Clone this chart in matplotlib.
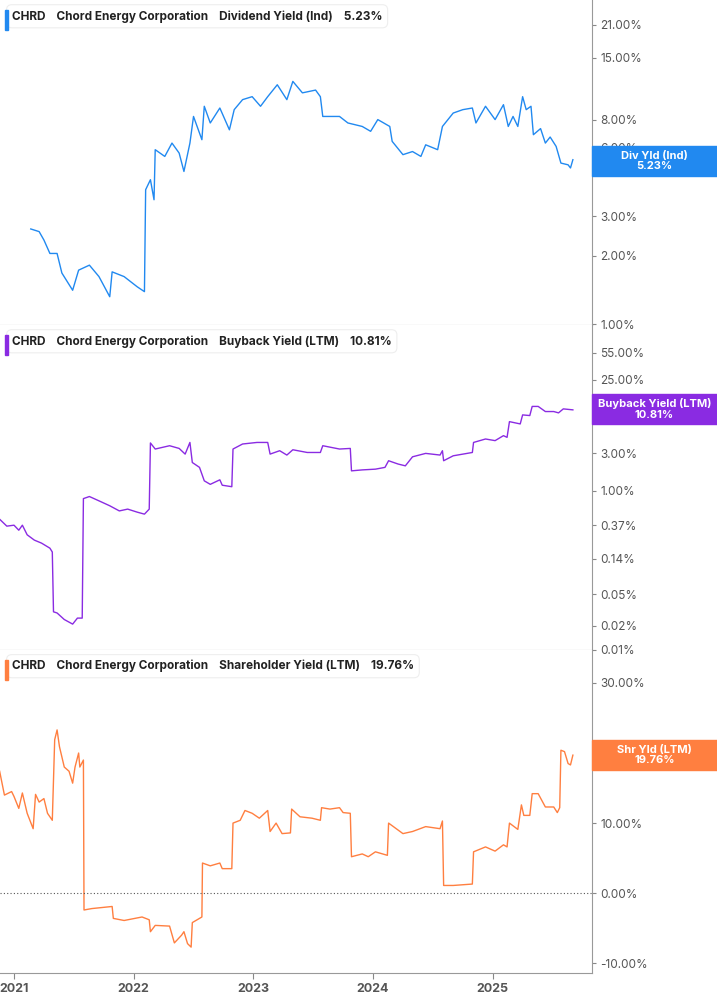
import matplotlib.pyplot as plt
from matplotlib.ticker import FixedLocator, FixedFormatter, NullLocator

# Dividend yield (Ind), %
div_x = [2021.14, 2021.21, 2021.25, 2021.30, 2021.36, 2021.40, 2021.49, 2021.54, 2021.63, 2021.71,
         2021.80, 2021.82, 2021.92, 2022.03, 2022.09, 2022.10, 2022.14, 2022.17, 2022.18, 2022.26,
         2022.32, 2022.38, 2022.42, 2022.47, 2022.50, 2022.57, 2022.59, 2022.64, 2022.72, 2022.80,
         2022.84, 2022.91, 2022.99, 2023.06, 2023.12, 2023.20, 2023.28, 2023.33, 2023.41, 2023.52,
         2023.56, 2023.58, 2023.72, 2023.79, 2023.91, 2023.98, 2024.04, 2024.14, 2024.16, 2024.25,
         2024.33, 2024.40, 2024.44, 2024.54, 2024.58, 2024.67, 2024.75, 2024.83, 2024.86, 2024.94,
         2025.02, 2025.09, 2025.13, 2025.17, 2025.21, 2025.25, 2025.28, 2025.32, 2025.34, 2025.40,
         2025.44, 2025.48, 2025.53, 2025.57, 2025.63, 2025.65, 2025.67]
div_y = [2.63, 2.56, 2.35, 2.05, 2.05, 1.68, 1.41, 1.73, 1.82, 1.62,
         1.32, 1.70, 1.62, 1.46, 1.39, 3.92, 4.34, 3.54, 5.89, 5.50,
         6.30, 5.69, 4.72, 6.30, 8.26, 6.52, 9.16, 7.73, 9.00, 7.21,
         8.85, 9.80, 10.1, 9.16, 10.1, 11.4, 9.80, 11.8, 10.5, 10.8,
         10.1, 8.26, 8.26, 7.73, 7.46, 7.10, 8.00, 7.46, 6.41, 5.60,
         5.78, 5.50, 6.19, 5.89, 7.46, 8.55, 8.85, 9.00, 7.73, 9.16,
         8.00, 9.31, 7.46, 8.26, 7.46, 10.1, 8.85, 9.16, 6.86, 7.30,
         6.30, 6.70, 6.09, 5.14, 5.05, 4.89, 5.32]

# Buyback yield (LTM), %
bb_x = [2020.88, 2020.94, 2021.00, 2021.04, 2021.07, 2021.11, 2021.17, 2021.23, 2021.30, 2021.32,
        2021.33, 2021.36, 2021.42, 2021.49, 2021.53, 2021.57, 2021.58, 2021.63, 2021.71, 2021.80,
        2021.88, 2021.95, 2022.03, 2022.09, 2022.13, 2022.14, 2022.18, 2022.30, 2022.38, 2022.43,
        2022.47, 2022.49, 2022.55, 2022.59, 2022.64, 2022.72, 2022.74, 2022.82, 2022.83, 2022.91,
        2023.03, 2023.12, 2023.14, 2023.22, 2023.28, 2023.33, 2023.45, 2023.56, 2023.58, 2023.72,
        2023.81, 2023.82, 2023.91, 2024.02, 2024.10, 2024.13, 2024.21, 2024.27, 2024.33, 2024.44,
        2024.56, 2024.58, 2024.59, 2024.67, 2024.83, 2024.84, 2024.94, 2025.02, 2025.09, 2025.12,
        2025.14, 2025.23, 2025.25, 2025.31, 2025.33, 2025.38, 2025.44, 2025.51, 2025.55, 2025.59,
        2025.67]
bb_y = [0.44, 0.36, 0.37, 0.32, 0.37, 0.28, 0.24, 0.22, 0.19, 0.17,
        0.030, 0.029, 0.024, 0.021, 0.025, 0.025, 0.80, 0.85, 0.75, 0.65,
        0.56, 0.59, 0.54, 0.51, 0.59, 4.02, 3.37, 3.71, 3.43, 2.91,
        4.08, 2.28, 1.98, 1.34, 1.21, 1.38, 1.18, 1.13, 3.37, 3.90,
        4.08, 4.08, 2.91, 3.21, 2.83, 3.30, 3.05, 3.05, 3.71, 3.37,
        3.43, 1.79, 1.84, 1.88, 1.98, 2.40, 2.18, 2.07, 2.69, 2.97,
        2.83, 3.21, 2.40, 2.77, 3.05, 4.08, 4.51, 4.30, 4.97, 4.73,
        7.46, 6.98, 9.07, 8.90, 11.6, 11.6, 10.0, 10.0, 9.62, 10.8,
        10.5]

# Shareholder yield (LTM), %
sh_x = [2020.88, 2020.92, 2020.98, 2021.00, 2021.04, 2021.07, 2021.11, 2021.16, 2021.18, 2021.21,
        2021.25, 2021.28, 2021.32, 2021.34, 2021.36, 2021.38, 2021.42, 2021.46, 2021.49, 2021.51,
        2021.54, 2021.55, 2021.58, 2021.585, 2021.65, 2021.82, 2021.83, 2021.92, 2022.07, 2022.13,
        2022.14, 2022.18, 2022.30, 2022.34, 2022.40, 2022.42, 2022.45, 2022.48, 2022.49, 2022.57,
        2022.575, 2022.64, 2022.72, 2022.74, 2022.82, 2022.83, 2022.89, 2022.93, 2022.99, 2023.05,
        2023.12, 2023.14, 2023.19, 2023.24, 2023.31, 2023.32, 2023.39, 2023.49, 2023.56, 2023.57,
        2023.64, 2023.72, 2023.75, 2023.81, 2023.82, 2023.91, 2023.96, 2024.02, 2024.12, 2024.13,
        2024.21, 2024.25, 2024.33, 2024.44, 2024.56, 2024.58, 2024.59, 2024.67, 2024.83, 2024.84,
        2024.94, 2025.02, 2025.09, 2025.12, 2025.14, 2025.21, 2025.24, 2025.26, 2025.31, 2025.33,
        2025.38, 2025.44, 2025.51, 2025.54, 2025.56, 2025.57, 2025.60, 2025.63, 2025.65, 2025.67]
sh_y = [17.4, 14.0, 14.5, 13.8, 12.1, 14.3, 11.4, 9.2, 14.1, 13.0,
        13.5, 11.4, 10.4, 21.9, 23.3, 20.9, 18.0, 17.4, 15.7, 18.0,
        20.0, 18.0, 19.0, -2.4, -2.2, -1.9, -3.6, -3.9, -3.4, -3.8,
        -5.5, -4.6, -4.7, -7.1, -6.0, -5.5, -7.2, -7.7, -4.2, -3.4,
        4.3, 3.9, 4.3, 3.5, 3.5, 10.0, 10.4, 11.8, 11.4, 10.7,
        11.8, 8.8, 10.0, 8.5, 8.6, 12.0, 10.9, 10.7, 10.4, 12.2,
        12.0, 12.2, 11.5, 11.4, 5.2, 5.6, 5.2, 5.9, 5.4, 10.0,
        9.0, 8.5, 8.8, 9.5, 9.2, 10.3, 1.1, 1.1, 1.3, 5.9,
        6.6, 6.0, 6.9, 6.6, 10.0, 9.1, 12.6, 11.1, 11.1, 14.2,
        14.2, 12.3, 12.3, 11.5, 12.2, 20.4, 20.2, 18.5, 18.3, 19.7]

years = [2021, 2022, 2023, 2024, 2025]

BLUE = "#2189f0"
PURPLE = "#8a2be2"
ORANGE = "#ff7f40"
GREY = "#555555"
XMIN, XMAX = 2020.883, 2025.83

fig = plt.figure(figsize=(7.17, 10.05), dpi=100)
plt.rcParams["font.family"] = "Inter"

panels = [
    dict(rect=[0, 0.6766, 0.8257, 0.3234], x=div_x, y=div_y, color=BLUE, log=True,
         ylim=(0.99, 27), ticks=[1, 2, 3, 6, 8, 15, 21],
         labels=["1.00%", "2.00%", "3.00%", "6.00%", "8.00%", "15.00%", "21.00%"],
         title="Dividend Yield (Ind)", val="5.23%", tag=("Div Yld (Ind)", "5.23%"), tag_y=(146, 176)),
    dict(rect=[0, 0.3532, 0.8257, 0.3234], x=bb_x, y=bb_y, color=PURPLE, log=True,
         ylim=(0.0099, 123), ticks=[0.01, 0.02, 0.05, 0.14, 0.37, 1, 3, 8, 25, 55],
         labels=["0.01%", "0.02%", "0.05%", "0.14%", "0.37%", "1.00%", "3.00%", "8.00%", "25.00%", "55.00%"],
         title="Buyback Yield (LTM)", val="10.81%", tag=("Buyback Yield (LTM)", "10.81%"), tag_y=(394, 424)),
    dict(rect=[0, 0.0318, 0.8257, 0.3214], x=sh_x, y=sh_y, color=ORANGE, log=False,
         ylim=(-11.4, 34.7), ticks=[-10, 0, 10, 20, 30],
         labels=["-10.00%", "0.00%", "10.00%", "20.00%", "30.00%"],
         title="Shareholder Yield (LTM)", val="19.76%", tag=("Shr Yld (LTM)", "19.76%"), tag_y=(740, 770)),
]

axes = []
for p in panels:
    ax = fig.add_axes(p["rect"])
    axes.append(ax)
    ax.plot(p["x"], p["y"], color=p["color"], lw=1.0)
    if p["log"]:
        ax.set_yscale("log")
    ax.set_ylim(*p["ylim"])
    ax.set_xlim(XMIN, XMAX)
    ax.yaxis.tick_right()
    ax.yaxis.set_major_locator(FixedLocator(p["ticks"]))
    ax.yaxis.set_major_formatter(FixedFormatter(p["labels"]))
    ax.yaxis.set_minor_locator(NullLocator())
    ax.tick_params(axis="y", colors="#888888", labelcolor=GREY, labelsize=8.5, length=3, pad=3)
    for s in ["top", "left"]:
        ax.spines[s].set_visible(False)
    for s in ["right", "bottom"]:
        ax.spines[s].set_color("#999999")
    ax.set_xticks(years)
    ax.xaxis.set_minor_locator(NullLocator())
    if p is panels[-1]:
        ax.set_xticklabels([str(y) for y in years])
        ax.tick_params(axis="x", colors="#888888", labelcolor=GREY, labelsize=9, length=4)
        for t in ax.get_xticklabels():
            t.set_fontweight("bold")
        ax.axhline(0, color="#555555", lw=0.8, ls=(0, (1, 2)))
    else:
        ax.tick_params(axis="x", bottom=False, labelbottom=False)

    # legend box top-left
    ax.text(0.02, 0.95, "CHRD    Chord Energy Corporation    " + p["title"] + "    " + p["val"],
            transform=ax.transAxes, fontsize=8.5, fontweight="bold", color="#222222", va="center",
            bbox=dict(boxstyle="round,pad=0.45", fc="white", ec="#eeeeee", lw=0.8))
    fig.patches.append(plt.Rectangle((5 / 717, 1 - 30 / 1005 - p["tag_y"][0] * 0 / 1005 - (1 - p["rect"][1] - p["rect"][3])),
                                     2.5 / 717, 20 / 1005, transform=fig.transFigure, color=p["color"]))

    # right value tag
    y0, y1 = p["tag_y"]
    fig.patches.append(plt.Rectangle((592 / 717, 1 - y1 / 1005), 125 / 717, (y1 - y0) / 1005,
                                     transform=fig.transFigure, color=p["color"], zorder=5))
    fig.text((592 + 717) / 2 / 717, 1 - (y0 + y1) / 2 / 1005, p["tag"][0] + "\n" + p["tag"][1],
             ha="center", va="center", color="white", fontsize=8, fontweight="bold",
             linespacing=1.1, zorder=6)

fig.savefig("out.png", dpi=100)
